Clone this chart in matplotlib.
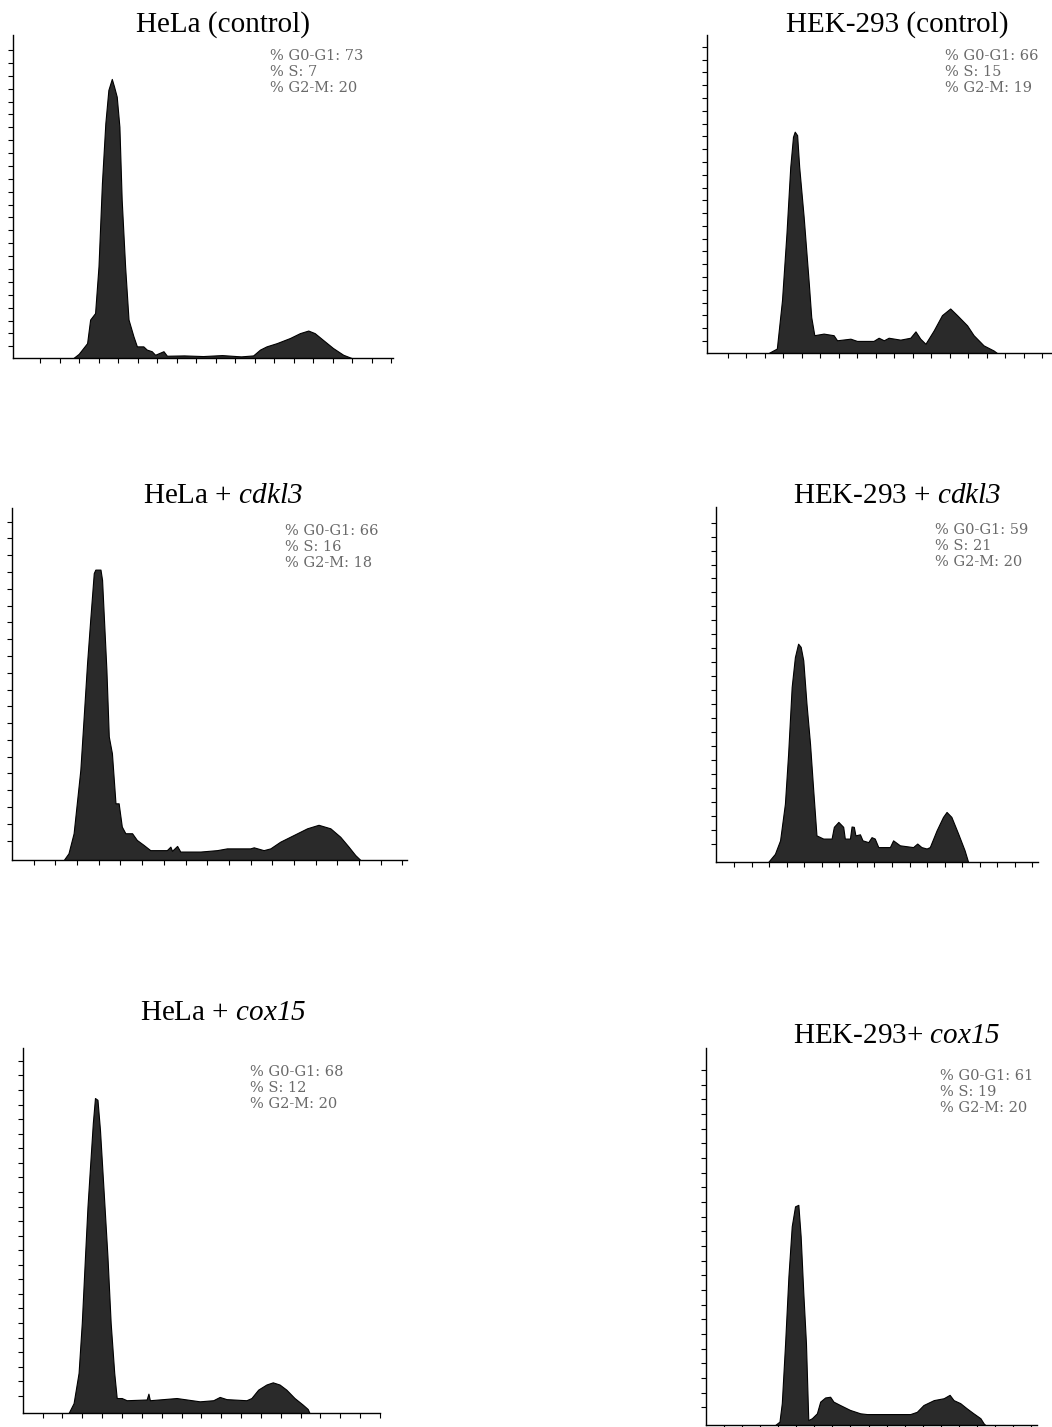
import numpy as np
import matplotlib
matplotlib.use("Agg")
import matplotlib.pyplot as plt

# gene names in the titles are italic (digits too)
plt.rcParams["mathtext.fontset"] = "custom"
plt.rcParams["mathtext.rm"] = "Liberation Serif:italic"
plt.rcParams["mathtext.it"] = "Liberation Serif:italic"

# panel titles and cell cycle percentages (G0-G1, S, G2-M)
titles = ["HeLa (control)", "HEK-293 (control)",
          r"HeLa + $\mathit{cdkl3}$", r"HEK-293 + $\mathit{cdkl3}$",
          r"HeLa + $\mathit{cox15}$", r"HEK-293+ $\mathit{cox15}$"]
pct_g1 = [73, 66, 66, 59, 68, 61]
pct_s = [7, 15, 16, 21, 12, 19]
pct_g2 = [20, 19, 18, 20, 20, 20]

# DNA content histograms (channel, counts)
hela_ctrl_x = [159, 173, 195, 203, 216, 225, 234, 243, 251, 260, 266, 273, 280, 286, 295, 304, 317, 326,
               343, 352, 365, 374, 396, 405, 450, 500, 550, 600, 632, 650, 667, 694, 729, 755, 777, 794,
               820, 842, 869, 891]
hela_ctrl_y = [0, 13, 46, 119, 139, 284, 541, 727, 830, 864, 840, 809, 716, 490, 284, 119, 67, 36,
               36, 26, 21, 10, 21, 7, 8, 6, 9, 5, 8, 26, 36, 46, 62, 77, 85, 77,
               52, 31, 10, 0]

hek_ctrl_x = [179, 203, 218, 231, 242, 250, 255, 262, 268, 281, 296, 303, 312, 339, 368, 378, 417, 436,
              484, 499, 514, 528, 562, 591, 606, 620, 635, 659, 683, 707, 727, 756, 775, 804, 833, 843]
hek_ctrl_y = [0, 14, 166, 376, 585, 680, 696, 685, 585, 428, 218, 113, 56, 61, 56, 40, 45, 38,
              38, 48, 40, 48, 42, 48, 68, 45, 29, 71, 119, 140, 119, 87, 56, 24, 8, 0]

hela_cdkl3_x = [131, 143, 156, 173, 181, 190, 198, 207, 211, 224, 228, 239, 245, 253, 262, 270, 278, 287,
                304, 316, 333, 350, 392, 401, 405, 418, 426, 477, 519, 544, 603, 612, 637, 654, 679, 713,
                747, 776, 806, 831, 852, 869, 882]
hela_cdkl3_y = [0, 19, 76, 256, 398, 559, 682, 815, 825, 825, 796, 540, 351, 303, 161, 161, 95, 76,
                76, 57, 43, 28, 28, 38, 26, 40, 24, 24, 28, 33, 33, 36, 28, 33, 52, 71,
                90, 100, 90, 66, 38, 14, 0]

hek_cdkl3_x = [162, 183, 199, 214, 224, 235, 245, 255, 263, 271, 281, 292, 302, 312, 333, 359, 366, 380,
               395, 400, 416, 421, 428, 433, 447, 455, 473, 483, 493, 504, 540, 550, 571, 612, 625, 638,
               654, 664, 685, 705, 716, 731, 752, 772, 783]
hek_cdkl3_y = [0, 23, 61, 164, 305, 493, 577, 615, 606, 568, 446, 333, 202, 75, 66, 66, 99, 113,
               99, 66, 66, 100, 99, 75, 78, 61, 56, 70, 66, 42, 42, 61, 47, 42, 52, 42,
               38, 42, 89, 127, 141, 127, 80, 33, 0]

hela_cox15_x = [128, 142, 156, 165, 174, 181, 187, 196, 202, 209, 216, 226, 237, 246, 256, 263, 277, 291,
                347, 352, 356, 431, 496, 534, 552, 571, 627, 641, 660, 683, 701, 720, 739, 762, 785, 799,
                804]
hela_cox15_y = [0, 27, 110, 247, 429, 566, 658, 795, 863, 858, 776, 612, 429, 247, 110, 41, 41, 35,
                37, 53, 35, 41, 32, 35, 44, 38, 35, 41, 64, 78, 84, 78, 64, 41, 23, 11,
                0]

hek_cox15_x = [209, 222, 229, 239, 249, 259, 269, 279, 286, 294, 302, 309, 320, 335, 345, 360, 375, 385,
               405, 435, 466, 486, 617, 637, 657, 688, 718, 736, 748, 768, 788, 808, 829, 839, 844]
hek_cox15_y = [0, 9, 58, 217, 394, 527, 580, 584, 500, 350, 217, 13, 18, 31, 62, 73, 75, 62,
               53, 40, 31, 29, 29, 35, 53, 66, 71, 80, 66, 58, 44, 31, 18, 4, 0]

series = [(hela_ctrl_x, hela_ctrl_y), (hek_ctrl_x, hek_ctrl_y),
          (hela_cdkl3_x, hela_cdkl3_y), (hek_cdkl3_x, hek_cdkl3_y),
          (hela_cox15_x, hela_cox15_y), (hek_cox15_x, hek_cox15_y)]

W, H = 1052, 1427
# axes boxes in pixels: left, right, top, bottom
boxes = [(13, 393, 35, 358), (707, 1051, 35, 353),
         (12, 407, 508, 860), (716, 1038, 507, 862),
         (23, 380, 1048, 1413), (706, 1037, 1048, 1425)]
# tick layout: y first, y step, y count, x first, x step, x count
tick_layout = [(36, 39.9, 24, 72, 51.3, 19), (38, 40.2, 24, 61, 53.7, 18),
               (55, 47.7, 20, 55, 54.9, 18), (50, 39.4, 24, 56, 54.5, 18),
               (47, 39.9, 24, 55, 55.7, 18), (47, 38.9, 24, 55, 54.5, 18)]
title_pos = [(223, 25), (897, 25), (223, 496), (897, 496), (223, 1013), (897, 1036)]
note_pos = [(270, 56), (945, 56), (285, 531), (935, 530), (250, 1072), (940, 1076)]

fig = plt.figure(figsize=(W / 100, H / 100), dpi=100)

for i, (xs, ys) in enumerate(series):
    l, r, t, b = boxes[i]
    ax = fig.add_axes([l / W, 1 - b / H, (r - l) / W, (b - t) / H])
    ax.fill_between(xs, ys, 0, facecolor="#2a2a2a", edgecolor="black", linewidth=0.8)
    ax.set_xlim(0, 1000)
    ax.set_ylim(0, 1000)
    for s in ["top", "right"]:
        ax.spines[s].set_visible(False)
    for s in ["left", "bottom"]:
        ax.spines[s].set_linewidth(1.0)
    y0, dy, ny, x0, dx, nx = tick_layout[i]
    ax.set_yticks(y0 + dy * np.arange(ny))
    ax.set_xticks(x0 + dx * np.arange(nx))
    ax.tick_params(direction="out", length=3.5, width=0.8, labelleft=False, labelbottom=False)

    tx, ty = title_pos[i]
    fig.text(tx / W, 1 - ty / H, titles[i], ha="center", va="center",
             fontsize=21, family="Liberation Serif")
    nx_, ny_ = note_pos[i]
    lines = [f"% G0-G1: {pct_g1[i]}", f"% S: {pct_s[i]}", f"% G2-M: {pct_g2[i]}"]
    for k, line in enumerate(lines):
        fig.text(nx_ / W, 1 - (ny_ + 16 * k) / H, line, ha="left", va="center",
                 fontsize=10.5, family="DejaVu Serif", color="#6a6a6a")

fig.savefig("out.png", dpi=100)
